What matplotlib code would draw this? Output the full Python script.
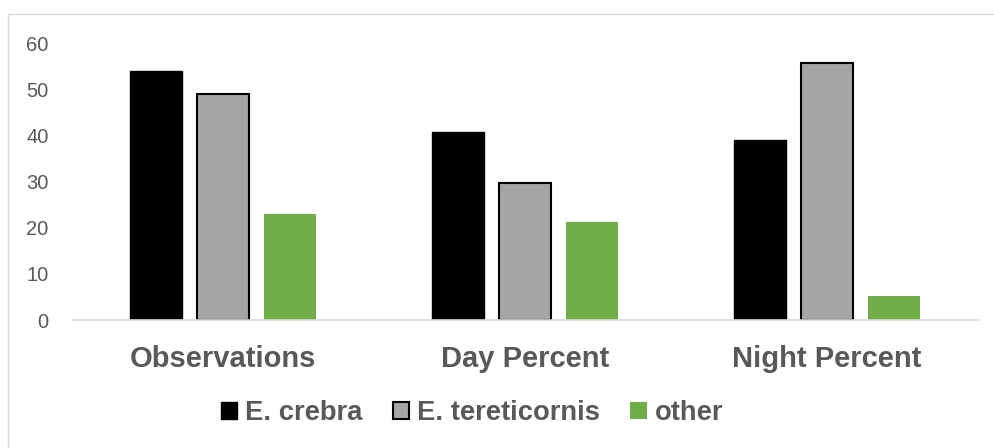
import numpy as np
import matplotlib
matplotlib.use('Agg')
import matplotlib.pyplot as plt
from matplotlib.patches import Rectangle

# Datos
categories = ['Observations', 'Day Percent', 'Night Percent']
crebra = [54.0, 40.8, 38.9]
tereticornis = [48.9, 29.6, 55.6]
other = [22.9, 21.3, 5.3]
series_names = ['E. crebra', 'E. tereticornis', 'other']

plt.rcParams['font.family'] = ['Liberation Sans', 'DejaVu Sans']

W, H = 995, 448
fig = plt.figure(figsize=(W / 100, H / 100), dpi=100)
ax = fig.add_axes([72 / W, 1 - 320 / H, (978 - 72) / W, (320 - 43) / H])

# Marco exterior gris claro
fig.patches.append(Rectangle((8 / W, -0.01), 1.02, 1 - 14 / H + 0.01,
                             transform=fig.transFigure, fill=False,
                             edgecolor='#d9d9d9', linewidth=1))

x = np.arange(len(categories))
bw = 0.175
step = 0.222

ax.bar(x - step, crebra, bw, color='black', edgecolor='black',
       linewidth=1, label=series_names[0])
ax.bar(x, tereticornis, bw, color='#a5a5a5', edgecolor='black',
       linewidth=1.5, label=series_names[1])
ax.bar(x + step, other, bw, color='#70ad47', edgecolor='none',
       label=series_names[2])

ax.set_xlim(-0.5, 2.5)
ax.set_ylim(0, 60)
ax.set_yticks(range(0, 61, 10))
ax.set_xticks(x)
ax.set_xticklabels(categories, fontsize=21, fontweight='bold', color='#595959')
ax.tick_params(axis='both', length=0)
ax.tick_params(axis='y', labelsize=14.5, labelcolor='#595959', pad=17)
ax.tick_params(axis='x', pad=18)

for s in ['top', 'right', 'left']:
    ax.spines[s].set_visible(False)
ax.spines['bottom'].set_color('#d9d9d9')
ax.spines['bottom'].set_linewidth(1.2)

leg = fig.legend(loc='center', bbox_to_anchor=(472 / W, 1 - 413 / H), ncol=3,
                 frameon=False, prop={'size': 19.7, 'weight': 'bold'},
                 handlelength=0.6, handleheight=0.6, handletextpad=0.3,
                 columnspacing=1.1)
for t in leg.get_texts():
    t.set_color('#595959')

plt.savefig('out.png', dpi=100, facecolor='white')
plt.close(fig)
